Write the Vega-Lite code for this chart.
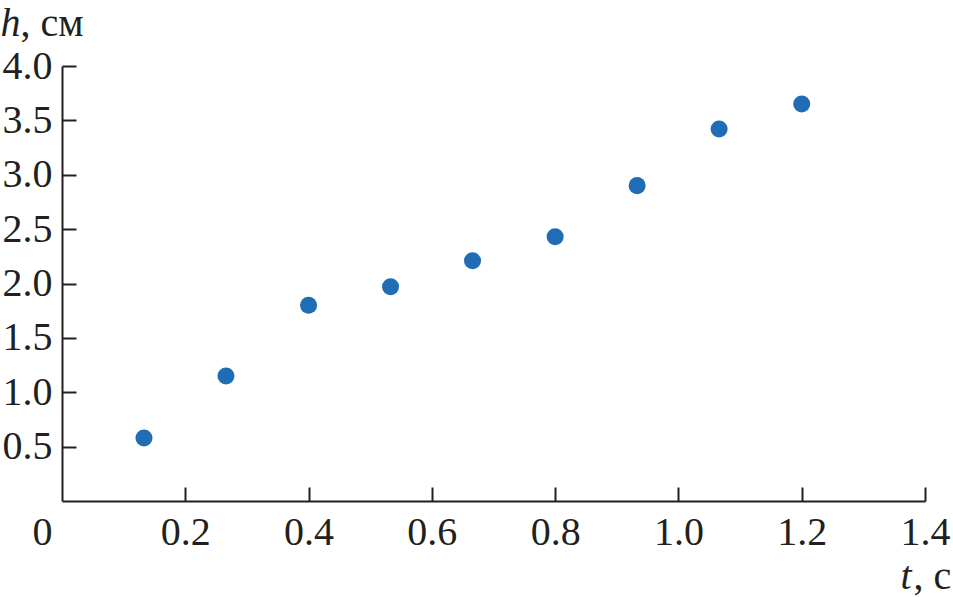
{
  "$schema": "https://vega.github.io/schema/vega-lite/v6.json",
  "width": 863,
  "height": 435,
  "autosize": {"type": "none"},
  "padding": {"left": 62, "top": 66, "right": 28, "bottom": 96},
  "background": "white",
  "config": {
    "view": {"stroke": null},
    "font": "Liberation Serif",
    "axis": {
      "labelFont": "Liberation Serif",
      "labelFontSize": 40,
      "labelColor": "#231f20",
      "titleFont": "Liberation Serif",
      "titleFontSize": 40,
      "titleColor": "#231f20",
      "titleFontWeight": "normal",
      "domainColor": "#231f20",
      "domainWidth": 2,
      "tickColor": "#231f20",
      "tickWidth": 2,
      "grid": false
    }
  },
  "data": {
    "values": [
      {"t": 0.133, "h": 0.58},
      {"t": 0.266, "h": 1.15},
      {"t": 0.4, "h": 1.8},
      {"t": 0.533, "h": 1.97},
      {"t": 0.666, "h": 2.21},
      {"t": 0.8, "h": 2.43},
      {"t": 0.933, "h": 2.9},
      {"t": 1.066, "h": 3.42},
      {"t": 1.2, "h": 3.65}
    ]
  },
  "layer": [
    {
      "mark": {"type": "circle", "size": 290, "color": "#1f6db5", "opacity": 1},
      "encoding": {
        "x": {
          "field": "t", "type": "quantitative",
          "scale": {"domain": [0, 1.4], "nice": false, "zero": false},
          "axis": {
            "orient": "bottom",
            "values": [0.2, 0.4, 0.6, 0.8, 1.0, 1.2, 1.4],
            "format": ".1f",
            "tickSize": -14,
            "labelPadding": 25,
            "labelFlush": false,
            "labelOverlap": false,
            "title": "t",
            "titleFontStyle": "italic",
            "titleAngle": 0,
            "titleAlign": "left",
            "titleBaseline": "alphabetic",
            "titleX": 838,
            "titleY": 87
          }
        },
        "y": {
          "field": "h", "type": "quantitative",
          "scale": {"domain": [0, 4], "nice": false, "zero": false},
          "axis": {
            "orient": "left",
            "values": [0.5, 1.0, 1.5, 2.0, 2.5, 3.0, 3.5, 4.0],
            "format": ".1f",
            "tickSize": -14,
            "labelPadding": 24,
            "labelFlush": false,
            "labelOverlap": false,
            "title": "h",
            "titleFontStyle": "italic",
            "titleAngle": 0,
            "titleAlign": "left",
            "titleBaseline": "alphabetic",
            "titleX": -62,
            "titleY": -31
          }
        }
      }
    },
    {
      "mark": {"type": "circle", "size": 10, "opacity": 0},
      "encoding": {
        "x": {
          "field": "t", "type": "quantitative",
          "axis": {
            "orient": "bottom",
            "values": [0],
            "format": "d",
            "domain": false,
            "ticks": false,
            "labelPadding": 11,
            "labelOffset": -20,
            "labelFlush": false,
            "title": ", с",
            "titleAngle": 0,
            "titleAlign": "left",
            "titleBaseline": "alphabetic",
            "titleX": 851,
            "titleY": 87
          }
        },
        "y": {
          "field": "h", "type": "quantitative",
          "axis": {
            "orient": "left",
            "labels": false,
            "domain": false,
            "ticks": false,
            "title": ", см",
            "titleAngle": 0,
            "titleAlign": "left",
            "titleBaseline": "alphabetic",
            "titleX": -42,
            "titleY": -31
          }
        }
      }
    }
  ],
  "resolve": {"axis": {"x": "independent", "y": "independent"}}
}
